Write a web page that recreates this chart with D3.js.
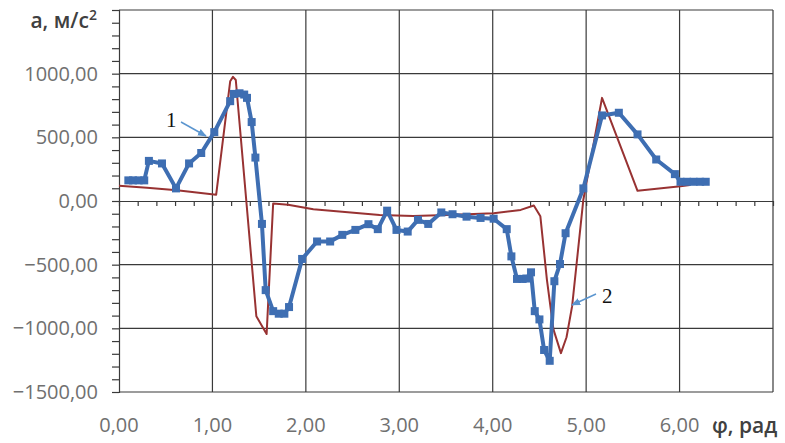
<!DOCTYPE html>
<html>
<head>
<meta charset="utf-8">
<script src="https://cdn.jsdelivr.net/npm/d3@7"></script>
<style>
  body { margin: 0; background: #fff; }
  svg { display: block; }
  .tick-label { font-family: "Open Sans", sans-serif; font-size: 20px; fill: #707070; }
  .title { font-family: "Open Sans", sans-serif; font-size: 21px; fill: #404040; font-weight: 600; }
  .note { font-family: "Liberation Serif", serif; font-size: 21px; fill: #111; }
</style>
</head>
<body>
<svg id="chart" width="785" height="443"></svg>
<script>
// series 1 (blue, with markers)
const blueX = [0.10, 0.15, 0.21, 0.27, 0.32, 0.46, 0.61, 0.75, 0.88, 1.02, 1.19, 1.23, 1.29, 1.34, 1.37,
    1.42, 1.46, 1.53, 1.57, 1.65, 1.71, 1.77, 1.82, 1.96, 2.12, 2.26, 2.39, 2.53, 2.67, 2.77, 2.87,
    2.97, 3.09, 3.20, 3.31, 3.45, 3.57, 3.72, 3.87, 4.01, 4.15, 4.20, 4.26, 4.32, 4.36, 4.41, 4.45,
    4.50, 4.55, 4.61, 4.66, 4.72, 4.78, 4.97, 5.17, 5.35, 5.55, 5.75, 5.95, 6.01, 6.08, 6.15, 6.22, 6.28];
const blueY = [162, 162, 162, 162, 315, 295, 99, 295, 377, 541, 784, 841, 846, 836, 810,
    620, 341, -180, -700, -865, -885, -885, -833, -455, -318, -318, -266, -227, -182, -221, -76,
    -227, -240, -148, -180, -90, -104, -123, -133, -139, -221, -435, -612, -612, -609, -560, -865,
    -930, -1170, -1255, -630, -495, -253, 99, 672, 693, 523, 326, 211, 151, 151, 151, 151, 151];

// series 2 (dark red line)
const redX = [0, 0.30, 0.62, 1.04, 1.19, 1.22, 1.25, 1.47, 1.58, 1.65, 1.81, 2.08, 2.79, 3.15, 3.51,
    4.01, 4.30, 4.44, 4.51, 4.58, 4.65, 4.73, 4.79, 4.85, 4.97, 5.17, 5.55, 6.01, 6.11];
const redY = [120, 105, 85, 50, 940, 975, 950, -905, -1045, -20, -30, -65, -109, -117, -109,
    -96, -70, -35, -120, -617, -1008, -1195, -1070, -826, 10, 810, 80, 115, 125];

const xTicks = [0, 1, 2, 3, 4, 5, 6];
const yTicks = [-1500, -1000, -500, 0, 500, 1000];
const fmt = d => d3.format('.2f')(d).replace('.', ',');

const svg = d3.select('#chart');
const mLeft = 119, mRight = 773, mTop = 10, mBottom = 392;

const x = d3.scaleLinear().domain([0, 7]).range([mLeft, mRight]);
const y = d3.scaleLinear().domain([-1500, 1500]).range([mBottom, mTop]);

// grid
const grid = svg.append('g').attr('stroke', '#3a3a3a').attr('stroke-width', 1.2);
grid.selectAll('.gx')
    .data(d3.range(1, 8))
    .enter().append('line')
    .attr('x1', d => x(d)).attr('x2', d => x(d))
    .attr('y1', mTop).attr('y2', mBottom);
grid.selectAll('.gy')
    .data([-1500, -1000, -500, 500, 1000, 1500])
    .enter().append('line')
    .attr('x1', mLeft).attr('x2', mRight)
    .attr('y1', d => y(d)).attr('y2', d => y(d));

// y axis with minor ticks every 100
svg.append('g')
    .attr('transform', `translate(${mLeft},0)`)
    .call(d3.axisLeft(y).tickValues(d3.range(-1500, 1501, 100)).tickSize(7).tickFormat(''))
    .call(g => g.selectAll('line, path').attr('stroke', '#3a3a3a').attr('stroke-width', 1.2));

// horizontal axis at zero, minor ticks every 0.2
svg.append('g')
    .attr('transform', `translate(0,${y(0)})`)
    .call(d3.axisBottom(x).tickValues(d3.range(0, 7.01, 0.2)).tickSize(5).tickSizeOuter(0).tickFormat(''))
    .call(g => g.selectAll('line, path').attr('stroke', '#3a3a3a').attr('stroke-width', 1.2));

// tick labels
svg.append('g').selectAll('text')
    .data(yTicks)
    .enter().append('text')
    .attr('class', 'tick-label')
    .attr('x', 98)
    .attr('y', d => y(d))
    .attr('dy', '0.35em')
    .attr('text-anchor', 'end')
    .text(fmt);

svg.append('g').selectAll('text')
    .data(xTicks)
    .enter().append('text')
    .attr('class', 'tick-label')
    .attr('x', d => x(d))
    .attr('y', 432)
    .attr('text-anchor', 'middle')
    .text(fmt);

// axis titles
const yt = svg.append('text').attr('class', 'title')
    .attr('x', 97).attr('y', 28).attr('text-anchor', 'end');
yt.append('tspan').text('a, м/с');
yt.append('tspan').attr('dy', -8).attr('font-size', 14).text('2');

svg.append('rect').attr('x', 705).attr('y', 410).attr('width', 80).attr('height', 33).attr('fill', '#fff');
svg.append('text').attr('class', 'title')
    .attr('x', 712).attr('y', 433)
    .text('φ, рад');

// lines
const line = d3.line().x(d => x(d[0])).y(d => y(d[1]));
const red = redX.map((d, i) => [d, redY[i]]);
const blue = blueX.map((d, i) => [d, blueY[i]]);

svg.append('path')
    .datum(red)
    .attr('d', line)
    .attr('fill', 'none')
    .attr('stroke', '#983232')
    .attr('stroke-width', 2)
    .attr('stroke-linejoin', 'round');

svg.append('path')
    .datum(blue)
    .attr('d', line)
    .attr('fill', 'none')
    .attr('stroke', '#3e6eb2')
    .attr('stroke-width', 4)
    .attr('stroke-linejoin', 'round');

svg.append('g').selectAll('rect')
    .data(blue)
    .enter().append('rect')
    .attr('x', d => x(d[0]) - 4)
    .attr('y', d => y(d[1]) - 4)
    .attr('width', 8)
    .attr('height', 8)
    .attr('fill', '#3e6eb2');

// annotations
const defs = svg.append('defs');
defs.append('marker')
    .attr('id', 'arr')
    .attr('viewBox', '0 0 10 10')
    .attr('refX', 9).attr('refY', 5)
    .attr('markerWidth', 6).attr('markerHeight', 6)
    .attr('orient', 'auto')
    .append('path')
    .attr('d', 'M0,1 L10,5 L0,9 Z')
    .attr('fill', '#5b95cf');

svg.append('text').attr('class', 'note').attr('x', 166).attr('y', 127).text('1');
svg.append('line')
    .attr('x1', 181).attr('y1', 122).attr('x2', 206).attr('y2', 136)
    .attr('stroke', '#5b95cf').attr('stroke-width', 1.5)
    .attr('marker-end', 'url(#arr)');

svg.append('text').attr('class', 'note').attr('x', 602).attr('y', 303).text('2');
svg.append('line')
    .attr('x1', 596).attr('y1', 294).attr('x2', 572).attr('y2', 305)
    .attr('stroke', '#5b95cf').attr('stroke-width', 1.5)
    .attr('marker-end', 'url(#arr)');
</script>
</body>
</html>
